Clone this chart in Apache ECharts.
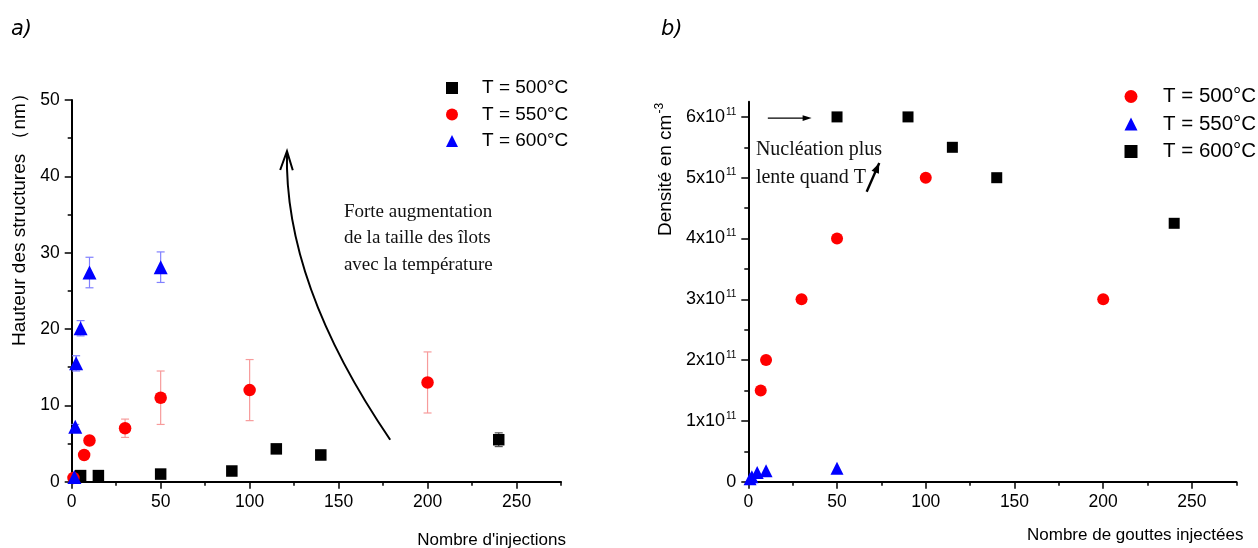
<!DOCTYPE html>
<html><head><meta charset="utf-8">
<script src="https://cdn.jsdelivr.net/npm/echarts@6/dist/echarts.min.js"></script>
<style>html,body{margin:0;padding:0;background:#fff}#c{width:1258px;height:548px}</style>
</head><body><div id="c"></div>
<script>
// ---------- Panel a) : Hauteur des structures (nm) vs Nombre d'injections ----------
const A_x500 = [5, 15, 50, 90, 115, 140, 240];
const A_y500 = [0.8, 0.8, 1.0, 1.4, 4.3, 3.5, 5.5];
const A_e500 = [0, 0, 0, 0, 0, 0.6, 0.9];

const A_x550 = [1, 7, 10, 30, 50, 100, 200];
const A_y550 = [0.5, 3.5, 5.4, 7.0, 11.0, 12.0, 13.0];
const A_e550 = [0, 0, 0, 1.2, 3.5, 4.0, 4.0];

const A_x600 = [1.5, 2, 2.5, 5, 10, 50];
const A_y600 = [0.6, 7.2, 15.5, 20.1, 27.4, 28.1];
const A_e600 = [0, 0.3, 1.0, 1.0, 2.0, 2.0];

// ---------- Panel b) : Densité (cm-3) vs Nombre de gouttes injectées ----------
const B_x500 = [7, 10, 30, 50, 100, 200];
const B_y500 = [1.5e11, 2.0e11, 3.0e11, 4.0e11, 5.0e11, 3.0e11];

const B_x550 = [1, 2, 5, 10, 50];
const B_y550 = [0.05e11, 0.08e11, 0.15e11, 0.18e11, 0.22e11];

const B_x600 = [50, 90, 115, 140, 240];
const B_y600 = [6.0e11, 6.0e11, 5.5e11, 5.0e11, 4.25e11];

// ---------- tick labels ----------
const X_TICKS = [0, 50, 100, 150, 200, 250];
const A_Y_TICKS = [0, 10, 20, 30, 40, 50];
const B_Y_TICKS = [0, 1e11, 2e11, 3e11, 4e11, 5e11, 6e11];
const B_Y_MINOR = [0, 0.5e11, 1e11, 1.5e11, 2e11, 2.5e11, 3e11, 3.5e11, 4e11, 4.5e11, 5e11, 5.5e11, 6e11];

// ---------- texts ----------
const LEG_A = ['T = 500°C', 'T = 550°C', 'T = 600°C'];
const LEG_B = ['T = 500°C ', 'T = 550°C ', 'T = 600°C ']; // trailing space: distinct legend names
const A_XNAME = "Nombre d'injections";
const A_YNAME = 'Hauteur des structures （nm）';
const B_XNAME = 'Nombre de gouttes injectées';
const B_YNAME = 'Densité en cm';
const NOTE_A = 'Forte augmentation\nde la taille des îlots\navec la température';
const NOTE_B = 'Nucléation plus\nlente quand T';

// annotation anchors in data units
const A_ARROW = {from: [179, 5.5], ctrl: [119, 26], to: [121, 43.3]};
const A_NOTE_AT = [153, 37.1];
const B_ARROW1 = {from: [11, 5.98e11], to: [35.7, 5.98e11]};
const B_ARROW2 = {from: [66.7, 4.77e11], to: [73.8, 5.24e11]};
const B_NOTE_AT = [4.3, 5.69e11];

const zip = (xs, ys) => xs.map((x, i) => [x, ys[i]]);
const zipE = (xs, ys, es) => xs.map((x, i) => [x, ys[i], es[i]]);

const SANS = 'Liberation Sans';
const SERIF = 'Liberation Serif';
const TICKFONT = {fontFamily: SANS, fontSize: 17.5, color: '#000'};

function errSeries(data, color, xi, yi) {
  return {
    type: 'custom', xAxisIndex: xi, yAxisIndex: yi, z: 1, silent: true,
    data: data.filter(d => d[2] > 0),
    renderItem: function (params, api) {
      const x = api.value(0), y = api.value(1), e = api.value(2);
      const top = api.coord([x, y + e]);
      const bot = api.coord([x, y - e]);
      const w = 4;
      const st = {stroke: color, lineWidth: 1.2};
      return {type: 'group', children: [
        {type: 'line', shape: {x1: top[0], y1: top[1], x2: bot[0], y2: bot[1]}, style: st},
        {type: 'line', shape: {x1: top[0] - w, y1: top[1], x2: top[0] + w, y2: top[1]}, style: st},
        {type: 'line', shape: {x1: bot[0] - w, y1: bot[1], x2: bot[0] + w, y2: bot[1]}, style: st}
      ]};
    }
  };
}

function mainX(gi) {
  return {gridIndex: gi, type: 'value', min: 0, max: 275, interval: 25, position: 'bottom',
    axisLine: {show: true, onZero: false, lineStyle: {color: '#000', width: 2}},
    axisTick: {show: true, length: 4, lineStyle: {color: '#000', width: 1.5}},
    axisLabel: Object.assign({customValues: X_TICKS, margin: 11}, TICKFONT),
    splitLine: {show: false}};
}
function majorX(gi) {
  return {gridIndex: gi, type: 'value', min: 0, max: 275, position: 'bottom',
    axisLine: {show: false, onZero: false},
    axisTick: {show: true, customValues: X_TICKS, length: 7, lineStyle: {color: '#000', width: 1.5}},
    axisLabel: {show: false}, splitLine: {show: false}};
}

const option = {
  animation: false,
  backgroundColor: '#fff',
  title: [
    {text: 'a)', left: 11, top: 19, padding: 0, textStyle: {fontFamily: 'DejaVu Sans', fontStyle: 'italic', fontWeight: 'normal', fontSize: 21, color: '#000'}},
    {text: 'b)', left: 661, top: 19, padding: 0, textStyle: {fontFamily: 'DejaVu Sans', fontStyle: 'italic', fontWeight: 'normal', fontSize: 21, color: '#000'}}
  ],
  grid: [
    {left: 71.7, top: 100, width: 489.3, height: 381.7},
    {left: 748.3, top: 101.7, width: 488, height: 380}
  ],
  legend: [
    {data: LEG_A, orient: 'vertical', left: 446, top: 78.5, padding: 0, itemWidth: 12, itemHeight: 12, itemGap: 7.5,
      selectedMode: false, textStyle: {fontFamily: SANS, fontSize: 19, color: '#000', padding: [0, 0, 0, 19]}},
    {data: LEG_B, orient: 'vertical', left: 1124.5, top: 86, padding: 0, itemWidth: 13, itemHeight: 13, itemGap: 6.5,
      selectedMode: false, textStyle: {fontFamily: SANS, fontSize: 20.5, color: '#000', padding: [0, 0, 0, 20.5]}}
  ],
  xAxis: [mainX(0), majorX(0), mainX(1), majorX(1)],
  yAxis: [
    {gridIndex: 0, type: 'value', min: 0, max: 50, interval: 5, position: 'left',
      axisLine: {show: true, onZero: false, lineStyle: {color: '#000', width: 2}},
      axisTick: {show: true, length: 4, lineStyle: {color: '#000', width: 1.5}},
      axisLabel: Object.assign({customValues: A_Y_TICKS, margin: 12}, TICKFONT),
      splitLine: {show: false}},
    {gridIndex: 0, type: 'value', min: 0, max: 50, position: 'left',
      axisLine: {show: false, onZero: false},
      axisTick: {show: true, customValues: A_Y_TICKS, length: 7, lineStyle: {color: '#000', width: 1.5}},
      axisLabel: {show: false}, splitLine: {show: false}},
    {gridIndex: 1, type: 'value', min: 0, max: 6.25e11, interval: 0.5e11, position: 'left',
      axisLine: {show: true, onZero: false, lineStyle: {color: '#000', width: 2}},
      axisTick: {show: true, customValues: B_Y_MINOR, length: 4, lineStyle: {color: '#000', width: 1.5}},
      axisLabel: {customValues: B_Y_TICKS, margin: 12, fontFamily: SANS, color: '#000',
        formatter: v => v === 0 ? '{m|0}' : '{m|' + Math.round(v / 1e11) + 'x10}{s|11}',
        rich: {m: {fontFamily: SANS, fontSize: 18, color: '#000'},
               s: {fontFamily: SANS, fontSize: 10, color: '#000', verticalAlign: 'top', padding: [0, 0, 10, 1]}}},
      splitLine: {show: false}},
    {gridIndex: 1, type: 'value', min: 0, max: 6.25e11, position: 'left',
      axisLine: {show: false, onZero: false},
      axisTick: {show: true, customValues: B_Y_TICKS, length: 7, lineStyle: {color: '#000', width: 1.5}},
      axisLabel: {show: false}, splitLine: {show: false}}
  ],
  series: [
    errSeries(zipE(A_x500, A_y500, A_e500), '#555555', 0, 0),
    errSeries(zipE(A_x550, A_y550, A_e550), '#f79b9b', 0, 0),
    errSeries(zipE(A_x600, A_y600, A_e600), '#8080ff', 0, 0),
    {name: LEG_A[0], type: 'scatter', xAxisIndex: 0, yAxisIndex: 0, symbol: 'rect', symbolSize: 11.5,
      itemStyle: {color: '#000', opacity: 1}, data: zip(A_x500, A_y500)},
    {name: LEG_A[1], type: 'scatter', xAxisIndex: 0, yAxisIndex: 0, symbol: 'circle', symbolSize: 12.5,
      itemStyle: {color: '#ff0000', opacity: 1}, data: zip(A_x550, A_y550)},
    {name: LEG_A[2], type: 'scatter', xAxisIndex: 0, yAxisIndex: 0, symbol: 'triangle', symbolSize: 14,
      itemStyle: {color: '#0000ff', opacity: 1}, data: zip(A_x600, A_y600)},
    {name: LEG_B[0], type: 'scatter', xAxisIndex: 2, yAxisIndex: 2, symbol: 'circle', symbolSize: 12,
      itemStyle: {color: '#ff0000', opacity: 1}, data: zip(B_x500, B_y500)},
    {name: LEG_B[1], type: 'scatter', xAxisIndex: 2, yAxisIndex: 2, symbol: 'triangle', symbolSize: 13,
      itemStyle: {color: '#0000ff', opacity: 1}, data: zip(B_x550, B_y550)},
    {name: LEG_B[2], type: 'scatter', xAxisIndex: 2, yAxisIndex: 2, symbol: 'rect', symbolSize: 11,
      itemStyle: {color: '#000', opacity: 1}, data: zip(B_x600, B_y600)}
  ]
};

const chart = echarts.init(document.getElementById('c'), null, {renderer: 'canvas'});
chart.setOption(option);

// ---------- annotations placed through the axes ----------
const pa = p => chart.convertToPixel({xAxisIndex: 0, yAxisIndex: 0}, p);
const pb = p => chart.convertToPixel({xAxisIndex: 2, yAxisIndex: 2}, p);

function headPoints(from, to, len, half) {
  const dx = to[0] - from[0], dy = to[1] - from[1];
  const L = Math.hypot(dx, dy), ux = dx / L, uy = dy / L;
  const bx = to[0] - ux * len, by = to[1] - uy * len;
  return [[bx - uy * half, by + ux * half], to, [bx + uy * half, by - ux * half]];
}

const a0 = pa(A_ARROW.from), ac = pa(A_ARROW.ctrl), a1 = pa(A_ARROW.to);
const aNote = pa(A_NOTE_AT);
const b10 = pb(B_ARROW1.from), b11 = pb(B_ARROW1.to);
const b20 = pb(B_ARROW2.from), b21 = pb(B_ARROW2.to);
const bNote = pb(B_NOTE_AT);
const gA = option.grid[0];

const graphic = [
  // panel a arrow
  {type: 'bezierCurve', shape: {x1: a0[0], y1: a0[1], cpx1: ac[0], cpy1: ac[1], x2: a1[0], y2: a1[1]},
    style: {stroke: '#000', lineWidth: 2, fill: 'none'}},
  {type: 'polyline', shape: {points: headPoints(ac, a1, 19, 6.3)}, style: {stroke: '#000', lineWidth: 2, fill: 'none'}},
  {type: 'text', x: aNote[0], y: aNote[1], style: {text: NOTE_A, fontFamily: SERIF, fontSize: 19, lineHeight: 26.5,
    fill: '#111', align: 'left', verticalAlign: 'top'}},
  // panel b arrows
  {type: 'line', shape: {x1: b10[0], y1: b10[1], x2: b11[0] - 6, y2: b11[1]}, style: {stroke: '#000', lineWidth: 1.3}},
  {type: 'polygon', shape: {points: headPoints(b10, b11, 9, 2.8)}, style: {fill: '#000'}},
  {type: 'line', shape: {x1: b20[0], y1: b20[1], x2: b21[0], y2: b21[1]}, style: {stroke: '#000', lineWidth: 2.4}},
  {type: 'polygon', shape: {points: headPoints(b20, b21, 10, 4)}, style: {fill: '#000'}},
  {type: 'text', x: bNote[0], y: bNote[1], style: {text: NOTE_B, fontFamily: SERIF, fontSize: 20, lineHeight: 28,
    fill: '#111', align: 'left', verticalAlign: 'top'}},
  // axis titles
  {type: 'text', x: gA.left + gA.width + 5, y: 540, style: {text: A_XNAME, fontFamily: SANS, fontSize: 17,
    fill: '#000', align: 'right', verticalAlign: 'middle'}},
  {type: 'text', x: 1027, y: 535, style: {text: B_XNAME, fontFamily: SANS, fontSize: 17,
    fill: '#000', align: 'left', verticalAlign: 'middle'}},
  {type: 'text', x: 20, y: 346, rotation: Math.PI / 2, style: {text: A_YNAME, fontFamily: SANS, fontSize: 19,
    fill: '#000', align: 'left', verticalAlign: 'middle'}},
  {type: 'text', x: 666, y: 236, rotation: Math.PI / 2, style: {text: '{m|' + B_YNAME + '}{s|-3}',
    fill: '#000', align: 'left', verticalAlign: 'middle',
    rich: {m: {fontFamily: SANS, fontSize: 19, fill: '#000'},
           s: {fontFamily: SANS, fontSize: 12, fill: '#000', verticalAlign: 'top', padding: [0, 0, 12, 1]}}}}
];
chart.setOption({graphic: graphic});
</script>
</body></html>
